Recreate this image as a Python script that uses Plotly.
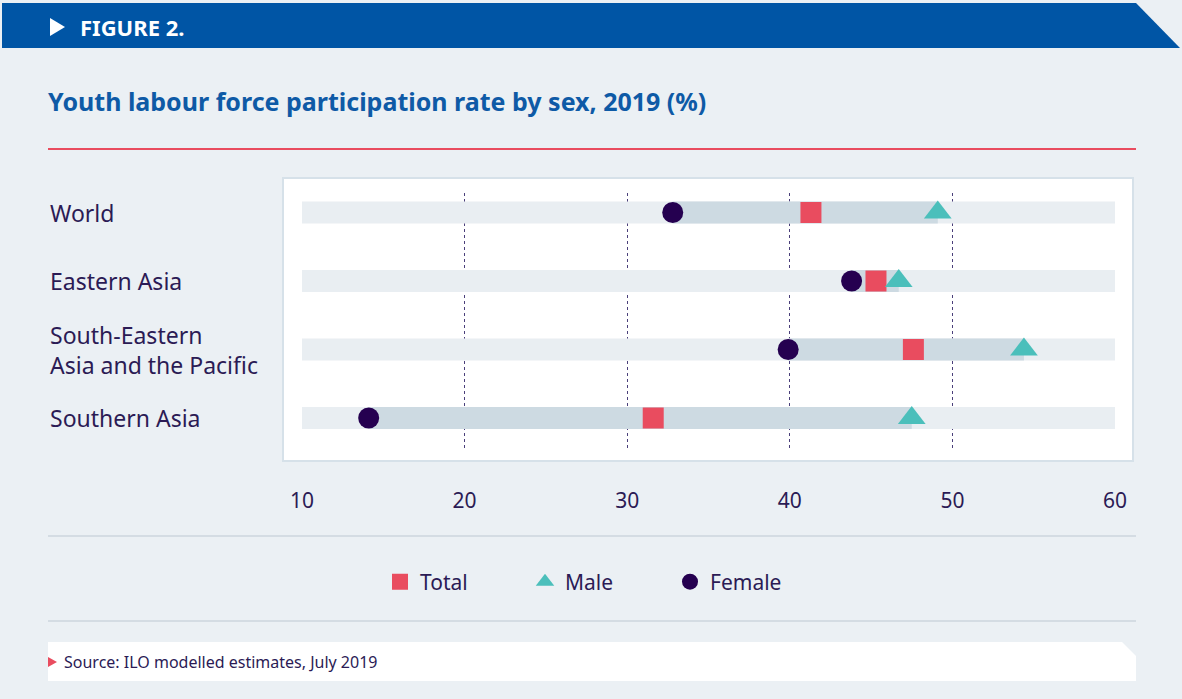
import plotly.graph_objects as go

regions = ["World", "Eastern Asia", "South-Eastern Asia and the Pacific", "Southern Asia"]
region_labels = ["World", "Eastern Asia", "South-Eastern<br>Asia and the Pacific", "Southern Asia"]
total = [41.3, 45.3, 47.6, 31.6]
male = [49.1, 46.7, 54.4, 47.5]
female = [32.8, 43.8, 39.9, 14.1]
x_ticks = [10, 20, 30, 40, 50, 60]
grid_vals = [20, 30, 40, 50]

TEXT = "#2B1B55"
BLUE = "#0055A5"
RED = "#E94C5F"
TEAL = "#4BBFBB"
DARK = "#250050"
BG = "#EBF0F4"
FONT = "Noto Sans"

# plot area in pixels
L, R, T, B = 302, 1115, 193, 450


def fx(p):
    return (p - L) / (R - L)


def fy(p):
    return (B - p) / (B - T)


lo = [min(v) for v in zip(total, male, female)]
hi = [max(v) for v in zip(total, male, female)]

fig = go.Figure()

# background strips 10..60
fig.add_trace(go.Bar(
    y=regions, x=[x_ticks[-1] - x_ticks[0]] * len(regions), base=x_ticks[0],
    orientation="h", width=0.32, marker_color="#E9EEF2", marker_line_width=0,
    showlegend=False, hoverinfo="skip"))
# range strips
fig.add_trace(go.Bar(
    y=regions, x=[h - l for h, l in zip(hi, lo)], base=lo,
    orientation="h", width=0.32, marker_color="#CDDAE2", marker_line_width=0,
    showlegend=False, hoverinfo="skip"))

fig.add_trace(go.Scatter(x=female, y=regions, mode="markers", name="Female",
                         marker=dict(symbol="circle", size=21, color=DARK),
                         legendrank=3))
fig.add_trace(go.Scatter(x=total, y=regions, mode="markers", name="Total",
                         marker=dict(symbol="square", size=21, color=RED),
                         legendrank=1))
fig.add_trace(go.Scatter(x=male, y=regions, mode="markers", name="Male",
                         marker=dict(symbol="triangle-up", size=24, color=TEAL),
                         legendrank=2))
# carrier for the tick-label axis
fig.add_trace(go.Scatter(x=[x_ticks[0]], y=[regions[0]], xaxis="x2", mode="markers",
                         marker=dict(opacity=0), showlegend=False, hoverinfo="skip"))

shapes = []
# header band
shapes.append(dict(type="path", xref="paper", yref="paper",
                   path=f"M {fx(2)},{fy(3)} L {fx(1136)},{fy(3)} L {fx(1180)},{fy(48)} L {fx(2)},{fy(48)} Z",
                   fillcolor=BLUE, line_width=0, layer="below"))
shapes.append(dict(type="path", xref="paper", yref="paper",
                   path=f"M {fx(50)},{fy(18)} L {fx(65)},{fy(27)} L {fx(50)},{fy(36)} Z",
                   fillcolor="white", line_width=0))
# red rule under title
shapes.append(dict(type="line", xref="paper", yref="paper", x0=fx(48), x1=fx(1136),
                   y0=fy(149), y1=fy(149), line=dict(color=RED, width=2)))
# chart frame
shapes.append(dict(type="rect", xref="paper", yref="paper", x0=fx(283), x1=fx(1133),
                   y0=fy(461), y1=fy(178), fillcolor="white",
                   line=dict(color="#D6E1E9", width=2), layer="below"))
# separators around legend
for yy in (536, 621):
    shapes.append(dict(type="line", xref="paper", yref="paper", x0=fx(48), x1=fx(1136),
                       y0=fy(yy), y1=fy(yy), line=dict(color="#D4DCE3", width=2)))
# source box
shapes.append(dict(type="path", xref="paper", yref="paper",
                   path=f"M {fx(48)},{fy(642)} L {fx(1122)},{fy(642)} L {fx(1136)},{fy(656)} L {fx(1136)},{fy(681)} L {fx(48)},{fy(681)} Z",
                   fillcolor="white", line_width=0, layer="below"))
shapes.append(dict(type="path", xref="paper", yref="paper",
                   path=f"M {fx(48)},{fy(657)} L {fx(57)},{fy(662)} L {fx(48)},{fy(667)} Z",
                   fillcolor=RED, line_width=0))

annotations = [
    dict(text="<b>FIGURE 2.</b>", x=fx(78), y=fy(27), xref="paper", yref="paper",
         xanchor="left", yanchor="middle", showarrow=False,
         font=dict(family=FONT, size=22, color="white")),
    dict(text="<b>Youth labour force participation rate by sex, 2019 (%)</b>",
         x=fx(46), y=fy(101), xref="paper", yref="paper", xanchor="left", yanchor="middle",
         showarrow=False, font=dict(family=FONT, size=25, color="#0E5AA6")),
    dict(text="Source: ILO modelled estimates, July 2019", x=fx(62), y=fy(662),
         xref="paper", yref="paper", xanchor="left", yanchor="middle", showarrow=False,
         font=dict(family=FONT, size=16, color=TEXT)),
]
for reg, lab in zip(regions, region_labels):
    annotations.append(dict(text=lab, x=fx(48), xref="paper", y=reg, yref="y",
                            xanchor="left", yanchor="middle", align="left", showarrow=False,
                            font=dict(family=FONT, size=23, color=TEXT)))

fig.update_layout(
    width=1182, height=699,
    margin=dict(l=L, r=1182 - R, t=T, b=699 - B, pad=0),
    paper_bgcolor=BG, plot_bgcolor="rgba(0,0,0,0)",
    font=dict(family=FONT, color=TEXT),
    barmode="overlay", shapes=shapes, annotations=annotations,
    xaxis=dict(range=[x_ticks[0], x_ticks[-1]], tickvals=grid_vals, showticklabels=False,
               showgrid=True, griddash="dot", gridcolor="#4A3F7A", gridwidth=1,
               zeroline=False, showline=False, ticks=""),
    xaxis2=dict(range=[x_ticks[0], x_ticks[-1]], tickvals=x_ticks, overlaying="x",
                anchor="y", side="bottom", showgrid=False, zeroline=False, ticks="",
                ticklabelstandoff=36, tickfont=dict(family=FONT, size=21, color=TEXT)),
    yaxis=dict(type="category", categoryarray=regions, range=[3.467, -0.285],
               showticklabels=False, showgrid=False, zeroline=False),
    legend=dict(orientation="h", x=fx(380), y=fy(582), xanchor="left", yanchor="middle",
                entrywidth=100, entrywidthmode="pixels", bgcolor="rgba(0,0,0,0)",
                font=dict(family=FONT, size=21, color=TEXT), traceorder="normal"),
    showlegend=True,
)

fig.write_html("out.html", config={"displayModeBar": False},
               post_script="document.body.style.margin='0';")
